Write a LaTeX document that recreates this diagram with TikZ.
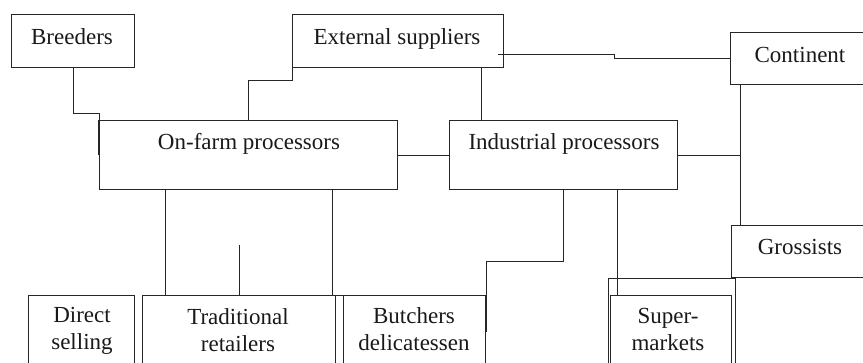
\documentclass[tikz,border=0pt]{standalone}
\usepackage{fontspec}
\setmainfont{Liberation Serif}
\begin{document}
\begin{tikzpicture}[x=1pt,y=-1pt,
  box/.style={draw=black!85, line width=0.9pt, inner sep=0pt, anchor=north west},
  lbl/.style={font=\fontsize{23}{26.5}\selectfont, inner sep=0pt, anchor=base, align=center, text=black!90},
  conn/.style={draw=black!85, line width=0.9pt}]
\useasboundingbox (0,0) rectangle (863,362);
\clip (0,0) rectangle (863,362);
% boxes
\node[box, minimum width=123pt, minimum height=53pt] (breed) at (11,14) {};
\node[box, minimum width=211pt, minimum height=53pt] (ext) at (292,14) {};
\node[box, minimum width=140pt, minimum height=52pt] (cont) at (730,32) {};
\node[box, minimum width=298pt, minimum height=69pt] (onfarm) at (99,120) {};
\node[box, minimum width=228pt, minimum height=69pt] (ind) at (449,120) {};
\node[box, minimum width=140pt, minimum height=52pt] (gross) at (731,225) {};
\node[box, minimum width=106pt, minimum height=70pt] (direct) at (28,295) {};
\node[box, minimum width=193pt, minimum height=70pt] (trad) at (142,295) {};
\node[box, minimum width=142pt, minimum height=70pt] (butch) at (343,295) {};
\node[box, minimum width=127pt, minimum height=90pt] (superout) at (608,278) {};
\node[box, minimum width=121pt, minimum height=75pt] (super) at (610,295) {};
% labels
\node[lbl] (tbreed) at (72,44) {Breeders};
\node[lbl] (text) at (397,44) {External suppliers};
\node[lbl] (tcont) at (800,62) {Continent};
\node[lbl] (tonfarm) at (249,149) {On-farm processors};
\node[lbl] (tind) at (564,149) {Industrial processors};
\node[lbl] (tgross) at (800,254) {Grossists};
\node[lbl] (tdirect) at (82,349) {Direct\\selling};
\node[lbl] (ttrad) at (238,351) {Traditional\\retailers};
\node[lbl] (tbutch) at (414,350) {Butchers\\delicatessen};
\node[lbl] (tsuper) at (668,350) {Super-\\markets};
% connectors
\draw[conn] (breed.south) -- ++(0,46) -| (onfarm.north west);
\draw[conn, line width=1.6pt] (onfarm.north west) -- ++(0,35);
\draw[conn] ([shift={(149,0)}]onfarm.north west) -- ++(0,-40) -| (ext.south west);
\draw[conn] ([shift={(189,0)}]ext.south west) |- (ind.north);
\draw[conn] ([shift={(-6,13)}]ext.east) -- ++(117,0) |- (cont.west);
\draw[conn] (onfarm.east) -- (ind.west);
\coordinate (vx) at ([shift={(10,0)}]cont.south west);
\draw[conn] ([shift={(72,0)}]cont.south west) -- (vx) -- (vx |- gross.north) -- ([shift={(72,0)}]gross.north west);
\draw[conn] (ind.east) -- (ind.east -| vx);
\draw[conn] (trad.north west) -| ([shift={(66,0)}]onfarm.south west) -- ([shift={(233,0)}]onfarm.south west) |- (butch.north west);
\draw[conn] (trad.north) -- ++(0,-50);
\draw[conn] (ind.south) -- ++(0,72) -| ([shift={(1,37)}]butch.north east);
\draw[conn] (ind.south) -- ++(54,0) |- ([shift={(60,0)}]super.north west);
\end{tikzpicture}
\end{document}
